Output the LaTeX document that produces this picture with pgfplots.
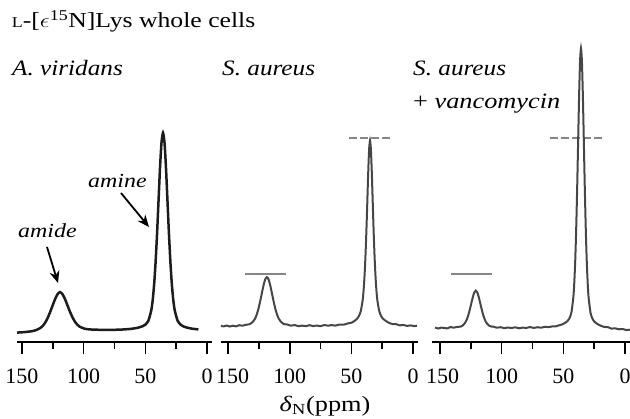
\documentclass[border=0pt]{standalone}
\usepackage{pgfplots}
\pgfplotsset{compat=1.18}
\usepackage{fontspec}
\setmainfont{Liberation Serif}
\usetikzlibrary{arrows.meta}
\definecolor{specA}{HTML}{1C1C1C}
\definecolor{spec}{HTML}{464646}
\definecolor{refl}{HTML}{858585}
\pgfplotsset{
  nmr/.style={
    scale only axis, height=311bp, ymin=0, ymax=311, x dir=reverse,
    anchor=south west, clip=false,
    axis x line=bottom, axis y line=none, ytick=\empty,
    axis line style={-, line width=1.9bp, black},
    xtick={0,50,100,150}, minor xtick={25,75,125},
    tick align=outside, major tick length=12bp, minor tick length=7bp,
    major tick style={line width=1.6bp, black},
    minor tick style={line width=1.6bp, black},
    xticklabel style={font=\fontsize{22}{22}\selectfont, yshift=-14bp, inner sep=1bp},
    /pgf/number format/assume math mode=true,
  }
}
\newcommand{\tx}[1]{\scalebox{1.2}[1]{#1}}
\newcommand{\ti}[1]{\scalebox{1.15}[1]{#1}}
\begin{document}
\begin{tikzpicture}[x=1bp,y=1bp]
\path[use as bounding box] (0,0) rectangle (630,418);

% Panel 1
\begin{axis}[nmr, at={(17bp,76bp)}, width=195bp, xmin=-4, xmax=154,
  xticklabels={0\hspace{9bp},50,100,150}]
\addplot[specA, line width=2.5bp, smooth, tension=0.4] coordinates {
(154,9.4) (148,9.9) (143,10.6) (139.2,11.6) (135.2,13.9) (133.2,16.0) (131.2,19.3) (129.2,23.9) (127.2,29.8) (125.2,36.3) (123.2,42.7) (121.2,47.7) (119.2,49.9) (117.2,47.9) (115.2,43.2) (113.2,37.0) (111.2,30.6) (109.2,25.1) (107.2,20.6) (105.2,17.4) (103.2,15.3) (99.2,13.3) (95.2,12.6) (90,12.3) (80,12.1) (70,12.4) (62,13.1) (56,14.3) (52,15.9) (49.95,17.4) (47.58,21.2) (45.2,31.7) (44.01,42.3) (42.83,58.5) (41.64,81.2) (40.45,110.1) (39.26,143.0) (38.08,175.2) (36.89,199.7) (35.7,209.1) (34.51,199.7) (33.33,175.2) (32.14,143.0) (30.95,110.1) (29.76,81.2) (28.58,58.5) (27.39,42.3) (26.2,31.7) (23.83,21.2) (21.45,17.4) (19.4,15.7) (16,14.3) (12,13.3) (7,12.6)
};
\end{axis}

% Panel 2
\begin{axis}[nmr, at={(221bp,76bp)}, width=197.05bp, xmin=-4.05, xmax=155.7,
  xticklabels={0\hspace{3bp},50,100,\hspace{9bp}150}]
\addplot[refl, line width=2.3bp] coordinates {(136.2,68) (103.0,68)};
\addplot[refl, line width=2.3bp, dash pattern=on 7.5bp off 3.5bp] coordinates {(51.9,204) (17.9,204)};
\addplot[spec, line width=2bp, smooth, tension=0.4] coordinates {
(155.7,16.2) (153.5,15.6) (151,16.5) (148.5,15.5) (146,16.3) (143.5,15.6) (141,16.8) (138.5,16.3) (135,17.3) (132.25,17.9) (129.5,20.7) (128.125,23.3) (126.75,27.4) (125.375,33.1) (124,40.3) (122.625,48.5) (121.25,56.5) (119.875,62.6) (118.5,64.9) (117.125,62.6) (115.75,56.5) (114.375,48.5) (113,40.3) (111.625,33.1) (110.25,27.4) (108.875,23.4) (107.5,20.8) (104.75,17.9) (102,17.5) (99,16.3) (96,17.0) (93,15.8) (90,16.4) (87,15.9) (84,16.8) (81,15.9) (78,16.5) (75,15.8) (72,17.0) (69,16.3) (66,16.9) (63,16.4) (60,17.3) (56,17.4) (52.9,18.6) (49.9,19.3) (46.9,21.6) (45.4,23.3) (43.9,26.0) (42.4,30.8) (40.9,41.3) (40.15,50.8) (39.4,64.7) (38.65,83.9) (37.9,108.6) (37.15,137.8) (36.4,167.8) (35.65,192.0) (34.9,201.6) (34.15,192.0) (33.4,167.8) (32.65,137.8) (31.9,108.6) (31.15,83.9) (30.4,64.7) (29.65,50.8) (28.9,41.3) (27.4,30.8) (25.9,26.0) (24.4,23.3) (22.9,21.8) (19.9,19.4) (16.9,18.0) (14,18.0) (10.9,16.6) (8,17.1) (4.9,16.1) (2,16.6) (-1,15.9) (-3.2,16.3)
};
\end{axis}

% Panel 3
\begin{axis}[nmr, at={(432bp,76bp)}, width=198bp, xmin=-4.05, xmax=156.5,
  xticklabels={0\hspace{3bp},50,100,\hspace{5bp}150}]
\addplot[refl, line width=2.3bp] coordinates {(141.3,68) (108.1,68)};
\addplot[refl, line width=2.3bp, dash pattern=on 7.5bp off 3.5bp] coordinates {(60.8,204) (17.1,204)};
\addplot[spec, line width=2bp, smooth, tension=0.4] coordinates {
(154,14.5) (151.5,13.5) (149,14.4) (146.5,14.0) (144,13.6) (141.5,15.0) (139,14.3) (136.5,15.0) (133,15.5) (131.8,16.4) (130.6,17.7) (129.4,19.7) (128.2,22.8) (127,27.1) (125.8,32.6) (124.6,38.8) (123.4,44.9) (122.2,49.6) (121,51.4) (119.8,49.6) (118.6,44.9) (117.4,38.8) (116.2,32.6) (115,27.1) (113.8,22.8) (112.6,19.7) (111.4,17.7) (110.2,16.4) (109,15.6) (106.6,15.3) (104,14.3) (101,14.8) (98,13.9) (95,14.5) (92,14.0) (89,14.7) (86,13.7) (83,14.4) (80,14.1) (77,14.9) (74,14.1) (71,14.8) (68,14.3) (65,15.2) (62,14.9) (59,15.6) (56,15.7) (54.3,16.4) (51.2,17.5) (48.1,19.5) (46.55,21.1) (45.0,23.9) (43.45,29.6) (41.9,44.7) (41.125,59.6) (40.35,82.1) (39.575,113.6) (38.8,153.7) (38.025,199.7) (37.25,245.1) (36.475,280.2) (35.7,293.7) (34.925,280.0) (34.15,244.9) (33.375,199.4) (32.6,153.4) (31.825,113.3) (31.05,81.7) (30.275,59.2) (29.5,44.2) (27.95,29.1) (26.4,23.3) (24.85,20.4) (23.3,18.7) (20.2,16.6) (17.1,15.1) (14,14.9) (11,13.4) (8,13.7) (5,12.7) (2,13.0) (-1,12.0) (-4,12.3)
};
\end{axis}

% Texts
\node[anchor=base west, inner sep=0pt, font=\fontsize{21.5}{21.5}\selectfont] at (11.7,390)
  {\tx{{\fontsize{15}{15}\selectfont L}-[$\epsilon$\textsuperscript{15}N]Lys whole cells}};
\node[anchor=base west, inner sep=0pt, font=\fontsize{22}{22}\selectfont\itshape] at (12,343) {\ti{A. viridans}};
\node[anchor=base west, inner sep=0pt, font=\fontsize{22}{22}\selectfont\itshape] at (222,343) {\ti{S. aureus}};
\node[anchor=base west, inner sep=0pt, font=\fontsize{22}{22}\selectfont\itshape] at (413,343) {\ti{S. aureus}};
\node[anchor=base west, inner sep=0pt, font=\fontsize{22}{22}\selectfont] at (413,310) {\tx{+ \textit{vancomycin}}};
\node[anchor=base west, inner sep=0pt, font=\fontsize{20}{20}\selectfont\itshape] at (18,181) {\tx{amide}};
\node[anchor=base west, inner sep=0pt, font=\fontsize{20}{20}\selectfont\itshape] at (88,231) {\tx{amine}};
\draw[line width=1.8bp, -{Stealth[length=12bp, width=10bp]}] (47,171) -- (58,135);
\draw[line width=1.8bp, -{Stealth[length=12bp, width=10bp]}] (121,225) -- (149,191);
\node[anchor=base, inner sep=0pt, font=\fontsize{22}{22}\selectfont] at (325,7)
  {\tx{\textit{δ}\textsubscript{N}(ppm)}};
\end{tikzpicture}
\end{document}
